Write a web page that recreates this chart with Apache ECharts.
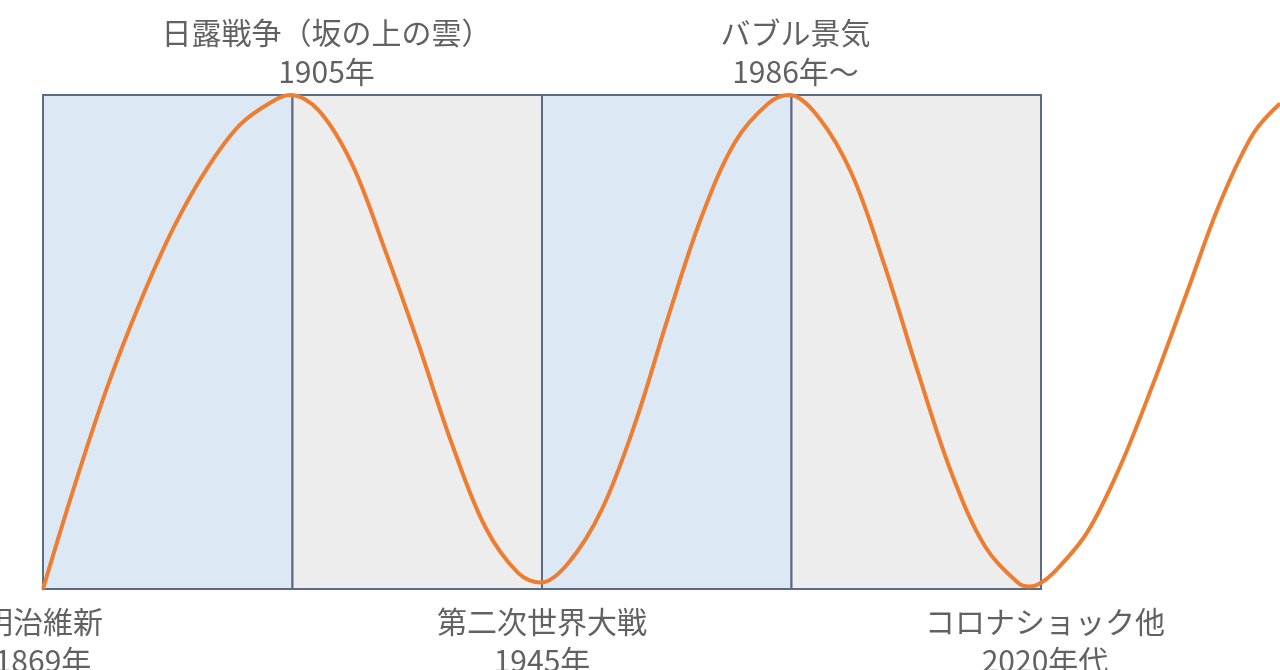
<!DOCTYPE html>
<html><head><meta charset="utf-8">
<script src="https://cdn.jsdelivr.net/npm/echarts@6/dist/echarts.min.js"></script>
<style>html,body{margin:0;padding:0;background:#fff;overflow:hidden}#c{width:1280px;height:670px}</style>
</head><body><div id="c"></div>
<script>
// Schematic cycle curve (x: period units, each box = 1; y: 0 = trough, 100 = peak)
const curveX = [0, 0.121, 0.255, 0.389, 0.522, 0.656, 0.790, 0.923, 0.99,
  1.103, 1.237, 1.371, 1.504, 1.638, 1.772, 1.905, 1.996,
  2.105, 2.239, 2.373, 2.506, 2.640, 2.774, 2.907, 2.992,
  3.107, 3.241, 3.375, 3.508, 3.642, 3.776, 3.909, 3.952, 3.992,
  4.049, 4.183, 4.317, 4.450, 4.584, 4.717, 4.851, 4.958];
const curveY = [0, 20.0, 40.5, 58.0, 73.0, 85.0, 94.0, 98.8, 100,
  97.0, 86.2, 68.6, 49.7, 29.5, 12.6, 3.2, 1.3,
  5.2, 16.0, 33.5, 55.1, 75.4, 90.5, 98.3, 100,
  95.6, 84.1, 65.2, 43.7, 23.4, 8.6, 1.2, 0.5, 1.0,
  3.2, 11.3, 24.8, 41.6, 59.9, 78.1, 92.2, 98.3];
// Periods (boxes)
const periodStart = [0, 1, 2, 3];
const periodEnd = [1, 2, 3, 4];
// Events
const eventX = [0, 1, 2, 3, 4];
const eventNames = ['明治維新', '日露戦争（坂の上の雲）', '第二次世界大戦', 'バブル景気', 'コロナショック他'];
const eventYears = ['1869年', '1905年', '1945年', '1986年〜', '2020年代'];
const eventSide = ['bottom', 'top', 'bottom', 'top', 'bottom'];

const boxColors = ['#dde8f5', '#ededed', '#dde8f5', '#ededed'];
const labelOffsets = [[0, 0], [34, 0], [0, 0], [4, 0], [4, 0]];

const chart = echarts.init(document.getElementById('c'));
chart.setOption({
  animation: false,
  grid: { left: 43, top: 95, width: 1247.5, height: 494, outerBoundsMode: 'none', containLabel: false },
  xAxis: { type: 'value', min: 0, max: 5, show: false },
  yAxis: { type: 'value', min: 0, max: 100, show: false },
  series: [
    {
      type: 'line', data: [], z: 1, silent: true,
      markArea: {
        silent: true, z: 1,
        data: periodStart.map((s, i) => [
          { xAxis: s, yAxis: 0, itemStyle: { color: boxColors[i], borderColor: '#5b6b85', borderWidth: 2 } },
          { xAxis: periodEnd[i], yAxis: 100 }
        ])
      }
    },
    {
      type: 'line', z: 5, smooth: 0.35, symbol: 'none', clip: false, silent: true,
      lineStyle: { color: '#ed7d31', width: 4 },
      data: curveX.map((x, i) => [x, curveY[i]])
    },
    {
      type: 'scatter', z: 6, symbolSize: 1, silent: true,
      itemStyle: { color: 'transparent' },
      data: eventX.map((x, i) => ({
        value: [x, eventSide[i] === 'top' ? 100 : 0],
        label: { position: eventSide[i], offset: labelOffsets[i], distance: eventSide[i] === 'top' ? 3 : 13 }
      })),
      label: {
        show: true,
        formatter: p => eventNames[p.dataIndex] + '\n' + eventYears[p.dataIndex],
        fontSize: 30, lineHeight: 39, color: '#3a3a3a',
        fontFamily: 'Noto Sans CJK JP', align: 'center'
      }
    }
  ]
});
</script>
</body></html>
